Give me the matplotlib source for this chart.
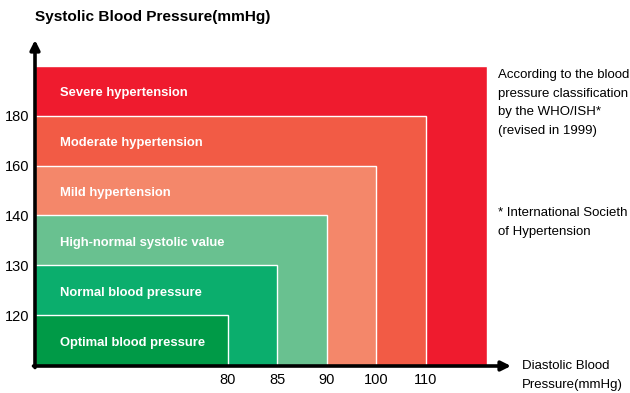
import matplotlib.pyplot as plt
from matplotlib.patches import Rectangle
import numpy as np

plt.rcParams["font.family"] = ["Liberation Sans", "DejaVu Sans"]

# WHO/ISH classification thresholds (upper limit of each class)
categories = [
	"Optimal blood pressure",
	"Normal blood pressure",
	"High-normal systolic value",
	"Mild hypertension",
	"Moderate hypertension",
	"Severe hypertension",
]
systolic_limits = [120, 130, 140, 160, 180]
diastolic_limits = [80, 85, 90, 100, 110]

cat2color = {
	"Optimal blood pressure": "#009a47",
	"Normal blood pressure": "#0bae6d",
	"High-normal systolic value": "#69c190",
	"Mild hypertension": "#f4876a",
	"Moderate hypertension": "#f25b45",
	"Severe hypertension": "#ef1b2e",
}

# categorical layout: each class gets one step on both axes
x_offset = 3.9
x_pos = np.arange(len(diastolic_limits)) + x_offset
y_pos = np.arange(len(systolic_limits)) + 1.02
x_outer = x_pos[-1] + 1.23
y_outer = y_pos[-1] + 1.0
x_max = x_pos[-1] + 1.72
y_max = y_outer + 0.52

fig = plt.figure(figsize=(6.3, 3.93), dpi=100)
ax = fig.add_axes([35 / 630, 27 / 393, 476 / 630, 326 / 393])
ax.set_xlim(0, x_max)
ax.set_ylim(0, y_max)

# nested rectangles, largest (severe) first
rect_w = list(x_pos) + [x_outer]
rect_h = list(y_pos) + [y_outer]
for cat, w, h in reversed(list(zip(categories, rect_w, rect_h))):
	ax.add_patch(Rectangle(
		(0, 0), w, h,
		facecolor=cat2color[cat],
		edgecolor="white",
		linewidth=1.0,
	))

# class names sit in the band between consecutive limits
band_low = [0] + list(y_pos)
for cat, lo, hi in zip(categories, band_low, rect_h):
	ax.text(
		0.505, (lo + hi) / 2 - 0.05, cat,
		color="white", fontsize=9.4, fontweight="bold",
		ha="left", va="center",
	)

# axes with arrow heads
arrow_kw = dict(arrowstyle="-|>", color="black", lw=2.6, mutation_scale=14,
	shrinkA=0, shrinkB=0)
ax.annotate("", xy=(x_max, 0), xytext=(-0.03, 0), arrowprops=arrow_kw,
	annotation_clip=False)
ax.annotate("", xy=(0, y_max), xytext=(0, -0.03), arrowprops=arrow_kw,
	annotation_clip=False)

for s in ax.spines.values():
	s.set_visible(False)
ax.set_xticks(x_pos)
ax.set_xticklabels([str(v) for v in diastolic_limits], fontsize=10.5)
ax.set_yticks(y_pos)
ax.set_yticklabels([str(v) for v in systolic_limits], fontsize=10.5)
ax.tick_params(length=0)
ax.tick_params(axis="x", pad=5)
ax.tick_params(axis="y", pad=4)

fig.text(35 / 630, 1 - 17 / 393, "Systolic Blood Pressure(mmHg)",
	fontsize=11.1, fontweight="bold", ha="left", va="center")

fig.text(498 / 630, 1 - 69 / 393,
	"According to the blood\npressure classification\nby the WHO/ISH*\n(revised in 1999)",
	fontsize=9.5, ha="left", va="top", linespacing=1.75)
fig.text(498 / 630, 1 - 207 / 393,
	"* International Societh\nof Hypertension",
	fontsize=9.5, ha="left", va="top", linespacing=1.75)
fig.text(522 / 630, 1 - 360 / 393,
	"Diastolic Blood\nPressure(mmHg)",
	fontsize=9.5, ha="left", va="top", linespacing=1.75)

plt.savefig("out.png", dpi=100)
plt.close()
